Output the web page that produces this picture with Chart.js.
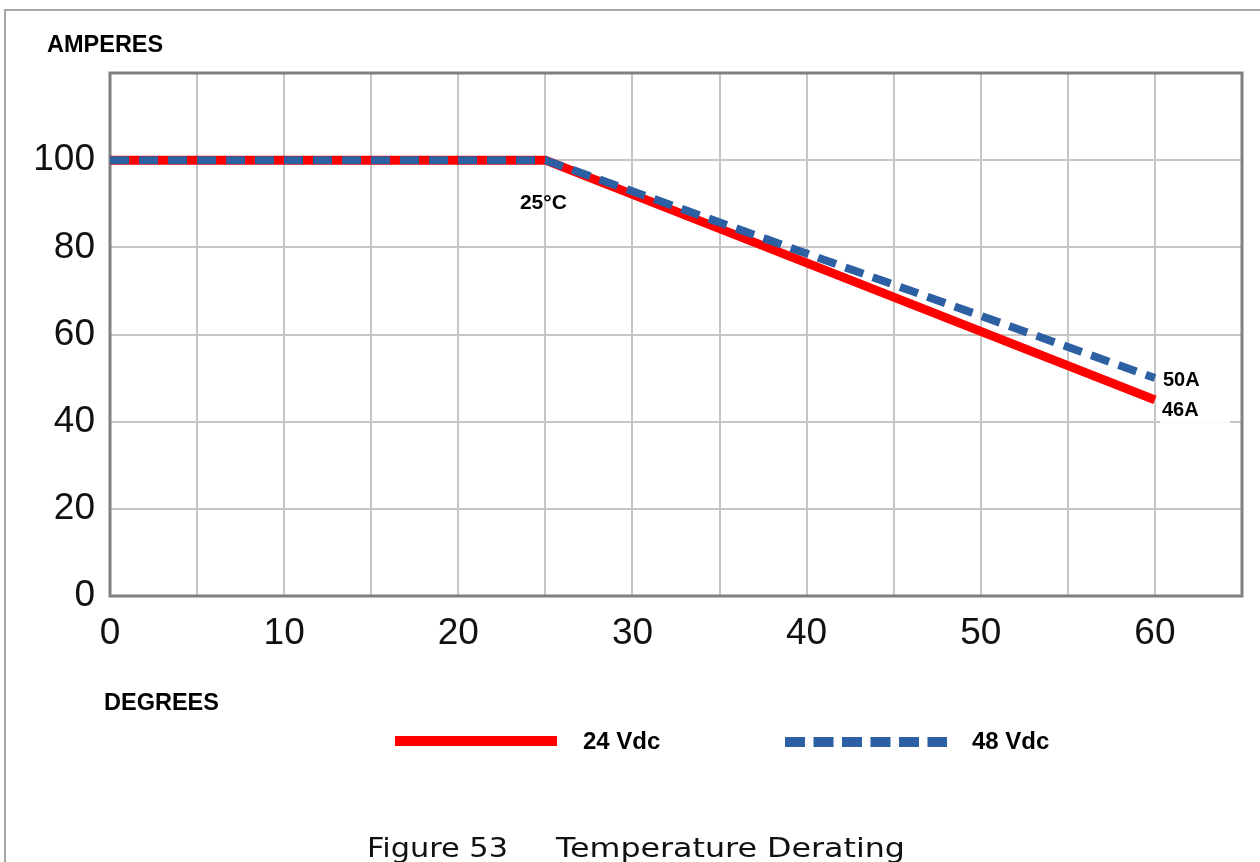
<!DOCTYPE html>
<html>
<head>
<meta charset="utf-8">
<script src="https://cdn.jsdelivr.net/npm/chart.js@4.4.1/dist/chart.umd.min.js"></script>
<style>
  html, body { margin: 0; padding: 0; background: #fff; }
  #wrap { position: relative; width: 1260px; height: 862px; overflow: hidden; }
  #frame { position: absolute; left: 4px; top: 9px; width: 1300px; height: 900px;
           border-left: 2px solid #a6a6a6; border-top: 2px solid #a6a6a6; }
  canvas { position: absolute; left: 0; top: 0; }
</style>
</head>
<body>
<div id="wrap">
  <div id="frame"></div>
  <canvas id="deratingChart" width="1260" height="862"></canvas>
</div>
<script>
// Data
const temps24 = [0, 25, 60];
const amps24 = [100, 100, 45];
const temps48 = [0, 25, 60];
const amps48 = [100, 100, 50];

const seriesNames = ['24 Vdc', '48 Vdc'];
const endLabels = ['46A', '50A'];
const kneeLabel = '25°C';

const RED = '#ff0000';
const BLUE = '#2d5fa3';
const ARIAL = '"Liberation Sans", Arial, sans-serif';

function toPoints(xs, ys) {
  return xs.map((x, i) => ({ x: x, y: ys[i] }));
}

// draw text squeezed/stretched to a given width
function fitText(ctx, text, x, y, width) {
  const w = ctx.measureText(text).width;
  ctx.save();
  ctx.translate(x, y);
  ctx.scale(width / w, 1);
  ctx.fillText(text, 0, 0);
  ctx.restore();
}

// frame + text annotations + legend
const annotations = {
  id: 'annotations',
  beforeDatasetsDraw(chart) {
    const { ctx, chartArea } = chart;
    ctx.save();
    ctx.strokeStyle = '#808080';
    ctx.lineWidth = 3;
    ctx.strokeRect(chartArea.left, chartArea.top, chartArea.width, chartArea.height);
    ctx.restore();
  },
  afterDatasetsDraw(chart) {
    const { ctx, scales: { x, y } } = chart;
    ctx.save();
    ctx.fillStyle = '#000';
    ctx.textBaseline = 'middle';

    // axis titles
    ctx.font = 'bold 23.5px ' + ARIAL;
    ctx.textAlign = 'left';
    ctx.fillText('AMPERES', 47, 46);
    ctx.fillText('DEGREES', 104, 704);

    // knee label
    ctx.font = 'bold 21px ' + ARIAL;
    ctx.textAlign = 'center';
    ctx.fillText(kneeLabel, x.getPixelForValue(temps24[1]) - 2, y.getPixelForValue(amps24[1]) + 43);

    // end labels
    ctx.font = 'bold 20px ' + ARIAL;
    ctx.textAlign = 'left';
    const xe = x.getPixelForValue(temps24[2]);
    const y46 = y.getPixelForValue(amps24[2]);
    ctx.fillStyle = '#fff';
    ctx.fillRect(xe + 5, y46 + 0, 70, 23);
    ctx.fillStyle = '#000';
    ctx.fillText(endLabels[0], xe + 7, y46 + 11);
    ctx.fillText(endLabels[1], xe + 8, y.getPixelForValue(amps48[2]) + 2);

    // legend
    ctx.lineCap = 'butt';
    ctx.lineWidth = 10;
    ctx.strokeStyle = RED;
    ctx.beginPath();
    ctx.moveTo(395, 741);
    ctx.lineTo(557, 741);
    ctx.stroke();

    ctx.strokeStyle = BLUE;
    ctx.setLineDash([20, 8.5]);
    ctx.beginPath();
    ctx.moveTo(785, 742);
    ctx.lineTo(947, 742);
    ctx.stroke();
    ctx.setLineDash([]);

    ctx.font = 'bold 24px ' + ARIAL;
    ctx.fillText(seriesNames[0], 583, 742);
    ctx.fillText(seriesNames[1], 972, 742);

    // caption
    ctx.font = '26px "DejaVu Sans", sans-serif';
    ctx.fillStyle = '#111';
    ctx.textBaseline = 'alphabetic';
    fitText(ctx, 'Figure 53', 367, 857, 141);
    fitText(ctx, 'Temperature Derating', 556, 857, 349);
    ctx.restore();
  }
};

const ctx = document.getElementById('deratingChart').getContext('2d');

new Chart(ctx, {
  type: 'scatter',
  data: {
    datasets: [
      {
        label: seriesNames[0],
        data: toPoints(temps24, amps24),
        showLine: true,
        borderColor: RED,
        borderWidth: 9,
        borderJoinStyle: 'miter',
        pointRadius: 0,
        order: 1
      },
      {
        label: seriesNames[1],
        data: toPoints(temps48, amps48),
        showLine: true,
        borderColor: BLUE,
        borderWidth: 8,
        borderDash: [19, 10],
        borderJoinStyle: 'miter',
        pointRadius: 0,
        order: 0
      }
    ]
  },
  options: {
    responsive: false,
    animation: false,
    layout: { padding: { left: 0, right: 18, top: 73, bottom: 0 } },
    plugins: {
      legend: { display: false },
      tooltip: { enabled: false }
    },
    scales: {
      x: {
        type: 'linear',
        min: 0,
        max: 65,
        afterFit: s => { s.height = 266; },
        border: { display: false },
        grid: { color: '#c6c6c6', lineWidth: 2, drawTicks: false },
        ticks: {
          stepSize: 5,
          autoSkip: false,
          maxRotation: 0,
          padding: 16,
          color: '#111',
          font: { family: ARIAL, size: 37 },
          callback: v => (v % 10 === 0 ? v : '')
        }
      },
      y: {
        min: 0,
        max: 120,
        afterFit: s => { s.width = 110; },
        border: { display: false },
        grid: { color: '#c6c6c6', lineWidth: 2, drawTicks: false },
        ticks: {
          stepSize: 20,
          padding: 15,
          color: '#111',
          font: { family: ARIAL, size: 37 },
          callback: v => (v <= 100 ? v : '')
        }
      }
    }
  },
  plugins: [annotations]
});
</script>
</body>
</html>
